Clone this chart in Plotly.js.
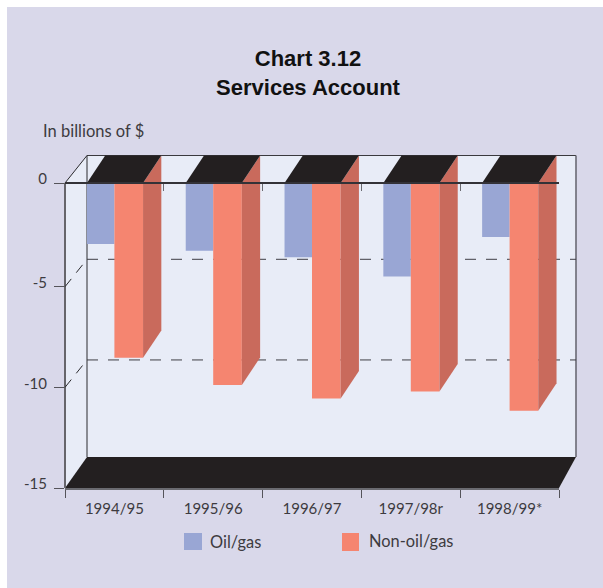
<!DOCTYPE html>
<html>
<head>
<meta charset="utf-8">
<script src="https://cdn.plot.ly/plotly-3.0.1.min.js"></script>
<style>html,body{margin:0;padding:0;background:#fff;overflow:hidden}</style>
</head>
<body>
<div id="chart" style="width:603px;height:588px"></div>
<script>
const categories = ['1994/95', '1995/96', '1996/97', '1997/98r', '1998/99*'];
const oilGas = [-3.0, -3.33, -3.65, -4.6, -2.65];
const nonOilGas = [-8.6, -9.93, -10.6, -10.25, -11.2];
const yTickLabels = ['0', '-5', '-10', '-15'];
const yTickPositions = [0, -5.1, -10.05, -15];
const gridValues = [-5.1, -10.05];
const seriesNames = ['Oil/gas', 'Non-oil/gas'];

const W = 603, H = 588;
const L = 65, R = 559, ZERO = 183, TOP = 155, B = 488;
const FONT = 'Lato, "Liberation Sans", sans-serif';
const TXT = '#3d3b40', BLACK = '#231f20', WALL = '#e8ecf7', PANEL = '#d9d8ea';
const BLUE = '#99a6d4', RED = '#f58570', SIDE = '#c96a5c';
const BLUE_W = 0.278, RED_W = 0.29, DEPTH_X = 0.185, DEPTH_Y = 1.35;
const UNIT = (B - ZERO) / 15;

const px = x => (x - L) / (R - L);
const py = y => (B - y) / (B - TOP);
const poly = pts => 'M' + pts.map(p => px(p[0]) + ',' + py(p[1])).join('L') + 'Z';
const paperShape = o => Object.assign({xref: 'paper', yref: 'paper', layer: 'below'}, o);
const seg = (x0, y0, x1, y1, color, width, dash) => paperShape({
  type: 'line', x0: px(x0), y0: py(y0), x1: px(x1), y1: py(y1),
  line: {color: color, width: width, dash: dash || 'solid'}
});
const valY = v => ZERO - v * UNIT;

const shapes = [
  paperShape({type: 'path', path: poly([[7, 7], [W, 7], [W, H], [7, H]]), fillcolor: PANEL, line: {width: 0}}),
  paperShape({type: 'path', path: poly([[65, 183], [87, 155.5], [576, 155.5], [576, 457], [559, 488], [65, 488]]), fillcolor: WALL, line: {width: 0}}),
  paperShape({type: 'path', path: poly([[65, 488], [87, 457], [576, 457], [559, 488]]), fillcolor: BLACK, line: {width: 0}}),
  seg(87, 155.5, 87, 457, '#2b2a2e', 1),
  seg(87, 155.5, 576, 155.5, '#3a393e', 1.2),
  seg(65, 183, 87, 155.5, '#2b2a2e', 1),
  seg(576, 155.5, 576, 457, '#6a6a74', 1.6),
  seg(65, 183, 65, 488, '#66656b', 2)
];
gridValues.forEach(v => {
  const y = valY(v);
  shapes.push(seg(87, y - 27.4, 576, y - 27.4, '#3f3f45', 1, '11px 10px'));
  shapes.push(seg(65, y, 87, y - 27.4, '#2b2a2e', 1, '10px 8px'));
});
shapes.push(paperShape({type: 'rect', x0: px(184), x1: px(202), y0: py(550), y1: py(533), fillcolor: BLUE, line: {width: 0}}));
shapes.push(paperShape({type: 'rect', x0: px(342), x1: px(359), y0: py(551), y1: py(533), fillcolor: RED, line: {width: 0}}));

const ix = categories.map((c, i) => i);
const traces = [
  {type: 'bar', name: seriesNames[0], x: categories, y: oilGas, offset: -BLUE_W, width: BLUE_W, marker: {color: BLUE, line: {width: 0}}, xaxis: 'x', yaxis: 'y', hoverinfo: 'x+y+name', cliponaxis: false},
  {type: 'bar', name: seriesNames[1], x: categories, y: nonOilGas, offset: 0, width: RED_W, marker: {color: RED, line: {width: 0}}, xaxis: 'x', yaxis: 'y', hoverinfo: 'x+y+name', cliponaxis: false}
];
const polyTrace = (xs, ys, color) => ({
  type: 'scatter', mode: 'lines', x: xs, y: ys, fill: 'toself', fillcolor: color,
  line: {width: 0, color: color}, xaxis: 'x2', yaxis: 'y', hoverinfo: 'skip', showlegend: false
});
ix.forEach(i => {
  const r = i + RED_W, l = i - BLUE_W, v = nonOilGas[i];
  traces.push(polyTrace([r, r + DEPTH_X, r + DEPTH_X, r, r], [0, DEPTH_Y, v + DEPTH_Y, v, 0], SIDE));
  traces.push(polyTrace([l, l + DEPTH_X, r + DEPTH_X, r, l], [0, DEPTH_Y, DEPTH_Y, 0, 0], BLACK));
});

const layout = {
  width: W, height: H,
  margin: {l: L, r: W - R, t: TOP, b: H - B, pad: 0},
  paper_bgcolor: '#ffffff', plot_bgcolor: 'rgba(0,0,0,0)',
  showlegend: false, barmode: 'overlay',
  font: {family: FONT, color: TXT, size: 14},
  xaxis: {
    type: 'category', categoryorder: 'array', categoryarray: categories,
    range: [-0.5, 4.5], tickson: 'boundaries', ticks: 'outside', ticklen: 8, tickwidth: 1.2, tickcolor: '#55545a',
    showline: true, linecolor: '#6a6a70', linewidth: 1.5, showgrid: false, zeroline: false,
    ticklabelstandoff: 6,
    tickfont: {family: FONT, size: 15, color: TXT}, fixedrange: true
  },
  xaxis2: {
    type: 'linear', overlaying: 'x', anchor: 'free', position: py(ZERO), side: 'top', range: [-0.5, 4.5],
    tickmode: 'array', tickvals: [0.5, 1.5, 2.5, 3.5, 4.5], ticks: 'inside', ticklen: 7, tickwidth: 1.2, tickcolor: '#6a6a70',
    showticklabels: false, showline: true, linecolor: '#333237', linewidth: 1.5, showgrid: false, zeroline: false, fixedrange: true
  },
  yaxis: {
    range: [-15, (ZERO - TOP) / UNIT], tickmode: 'array', tickvals: yTickPositions, ticktext: yTickLabels,
    ticks: 'outside', ticklen: 10, tickwidth: 1.2, tickcolor: '#55545a',
    showline: false, showgrid: false, zeroline: false, ticklabelstandoff: 4, ticklabelshift: -4,
    tickfont: {family: FONT, size: 15, color: TXT}, fixedrange: true
  },
  title: {
    text: 'Chart 3.12<br>Services Account', x: 308 / W, xanchor: 'center', y: 1 - 66 / H, yanchor: 'middle',
    font: {family: '"Liberation Sans", Arial, sans-serif', size: 22, color: '#111', weight: 700}
  },
  shapes: shapes,
  annotations: [
    {text: 'In billions of $', xref: 'paper', yref: 'paper', x: px(41), y: py(131), xanchor: 'left', yanchor: 'middle', showarrow: false, font: {family: FONT, size: 16.5, color: TXT}},
    {text: seriesNames[0], xref: 'paper', yref: 'paper', x: px(208), y: py(541), xanchor: 'left', yanchor: 'middle', showarrow: false, font: {family: FONT, size: 16.4, color: TXT}},
    {text: seriesNames[1], xref: 'paper', yref: 'paper', x: px(367), y: py(540), xanchor: 'left', yanchor: 'middle', showarrow: false, font: {family: FONT, size: 16.4, color: TXT}}
  ]
};
Plotly.newPlot('chart', traces, layout, {displayModeBar: false, responsive: false});
</script>
</body>
</html>
